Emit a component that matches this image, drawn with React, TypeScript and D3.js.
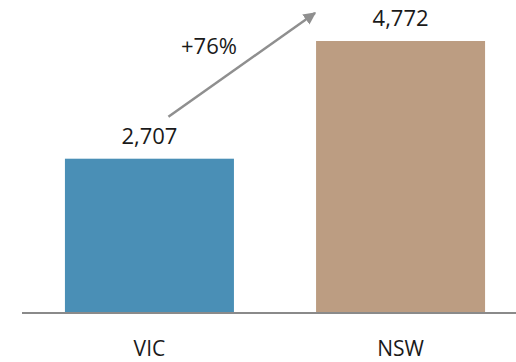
import React from "react";
import * as d3 from "d3";

const categories = ["VIC", "NSW"];
const values = [2707, 4772];
const valueLabels = ["2,707", "4,772"];
const colors = ["#4a8fb6", "#bc9d82"];
const changeLabel = "+76%";

const W = 516;
const H = 362;
const baseY = 313;

export default function App() {
  const x = d3.scaleBand<string>().domain(categories).range([24, 526]).paddingInner(0.327).paddingOuter(0.163);
  const y = d3.scaleLinear().domain([0, 4772]).range([baseY, 41]);
  const font = "'Open Sans', 'Noto Sans', sans-serif";
  const bw = x.bandwidth();
  const c0 = (x(categories[0]) as number) + bw / 2;
  const c1 = (x(categories[1]) as number) + bw / 2;
  const ax0 = c0 + 19, ay0 = y(values[0]) - 42;
  const ax1 = (x(categories[1]) as number) - 1, ay1 = 13;
  return (
    <svg width={W} height={H} style={{ position: "absolute", left: 0, top: 0, background: "#fff" }}>
      <defs>
        <marker id="ah" viewBox="0 0 10 10" refX="9" refY="5" markerWidth="5" markerHeight="5" orient="auto" markerUnits="strokeWidth">
          <path d="M0,0 L10,5 L0,10 z" fill="#8f8f8f" />
        </marker>
      </defs>
      {categories.map((c, i) => (
        <g key={c}>
          <rect x={x(c)} y={y(values[i])} width={bw} height={baseY - y(values[i])} fill={colors[i]} />
          <text x={(x(c) as number) + bw / 2} y={y(values[i]) - 15} textAnchor="middle" fontFamily={font} fontSize={22} fill="#1a1a1a">
            {valueLabels[i]}
          </text>
          <text x={(x(c) as number) + bw / 2} y={356} textAnchor="middle" fontFamily={font} fontSize={21} fill="#1a1a1a">
            {c}
          </text>
        </g>
      ))}
      <line x1={22} x2={516} y1={baseY} y2={baseY} stroke="#8a8a8a" strokeWidth={2} />
      <line x1={ax0} y1={ay0} x2={ax1} y2={ay1} stroke="#8f8f8f" strokeWidth={2.5} markerEnd="url(#ah)" />
      <text x={(c0 + c1) / 2 - 66} y={54} textAnchor="middle" fontFamily={font} fontSize={22} fill="#1a1a1a">
        {changeLabel}
      </text>
    </svg>
  );
}
